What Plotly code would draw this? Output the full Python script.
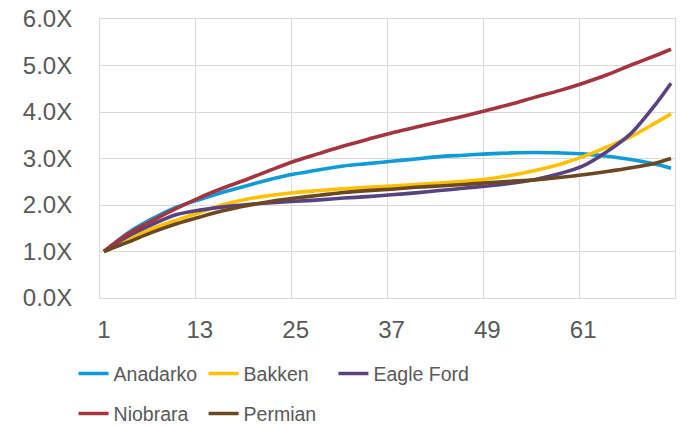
import plotly.graph_objects as go

# Month index (72 monthly categories, sampled every third month)
months = [1, 4, 7, 10, 13, 16, 19, 22, 25, 28, 31, 34, 37, 40, 43, 46, 49, 52, 55, 58, 61, 64, 67, 70, 72]
tick_months = [1, 13, 25, 37, 49, 61]

anadarko = [1.00, 1.40, 1.70, 1.95, 2.12, 2.28, 2.42, 2.56, 2.67, 2.76, 2.84, 2.89, 2.94, 2.99, 3.04, 3.07, 3.10, 3.12, 3.13, 3.12, 3.10, 3.05, 2.98, 2.88, 2.79]
bakken = [1.00, 1.27, 1.49, 1.67, 1.84, 2.01, 2.13, 2.21, 2.27, 2.31, 2.35, 2.38, 2.41, 2.44, 2.47, 2.51, 2.56, 2.64, 2.74, 2.87, 3.04, 3.25, 3.47, 3.76, 3.96]
eagle_ford = [1.00, 1.33, 1.58, 1.79, 1.89, 1.96, 2.01, 2.05, 2.08, 2.11, 2.15, 2.18, 2.22, 2.26, 2.31, 2.36, 2.41, 2.47, 2.55, 2.67, 2.84, 3.15, 3.54, 4.15, 4.62]
niobrara = [1.00, 1.38, 1.66, 1.92, 2.16, 2.37, 2.56, 2.76, 2.95, 3.11, 3.27, 3.41, 3.55, 3.67, 3.79, 3.91, 4.04, 4.17, 4.32, 4.46, 4.62, 4.80, 5.01, 5.21, 5.35]
permian = [1.00, 1.20, 1.41, 1.59, 1.74, 1.88, 1.99, 2.08, 2.15, 2.21, 2.27, 2.31, 2.34, 2.38, 2.41, 2.44, 2.48, 2.51, 2.54, 2.59, 2.65, 2.72, 2.80, 2.90, 3.00]

# Legend layout: two columns on the left, Eagle Ford in a third column on the top row
series = [
    ("Anadarko", anadarko, "#0E9BD8", "legend"),
    ("Bakken", bakken, "#FFC000", "legend"),
    ("Eagle Ford", eagle_ford, "#584380", "legend3"),
    ("Niobrara", niobrara, "#A4343E", "legend2"),
    ("Permian", permian, "#6B4722", "legend2"),
]

font_family = "Liberation Sans, Arial, sans-serif"
grey = "#595959"
grid = "#D9D9D9"

fig = go.Figure()
for name, vals, color, leg in series:
    fig.add_trace(go.Scatter(
        x=months, y=vals, name=name, mode="lines", legend=leg,
        line=dict(color=color, width=3.6, shape="spline", smoothing=0.8),
    ))

legend_common = dict(
    orientation="h", xanchor="left", yanchor="middle",
    font=dict(size=19.5, color=grey, family=font_family),
    itemwidth=30, bgcolor="rgba(0,0,0,0)",
)

row1_y, row2_y = -0.272, -0.415
col1_x = -0.046

fig.update_layout(
    width=681, height=426,
    margin=dict(l=100, r=6, t=19, b=128, autoexpand=False),
    paper_bgcolor="white", plot_bgcolor="white",
    font=dict(family=font_family, size=24, color=grey),
    showlegend=True,
    legend=dict(x=col1_x, y=row1_y, entrywidth=85, entrywidthmode="pixels", **legend_common),
    legend2=dict(x=col1_x, y=row2_y, entrywidth=85, entrywidthmode="pixels", **legend_common),
    legend3=dict(x=col1_x + 0.452, y=row1_y, **legend_common),
)

fig.update_xaxes(
    range=[0.5, 72.5], automargin=False,
    tickmode="array", tickvals=tick_months, ticktext=[str(m) for m in tick_months],
    showgrid=False, zeroline=False,
    showline=True, mirror=True, linecolor=grid, linewidth=1,
    ticks="", ticklabelstandoff=10,
    minor=dict(tick0=0.5, dtick=12, showgrid=True, gridcolor=grid, gridwidth=1, ticks=""),
)
fig.update_yaxes(
    range=[0, 6], dtick=1, tickformat=".1f", ticksuffix="X", automargin=False,
    showgrid=True, gridcolor=grid, gridwidth=1, zeroline=False,
    showline=True, mirror=True, linecolor=grid, linewidth=1,
    ticks="", ticklabelstandoff=22,
)

fig.write_html("out.html")
